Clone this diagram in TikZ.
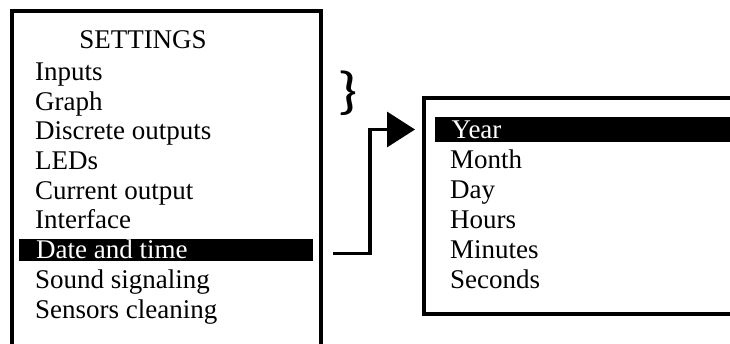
\documentclass[tikz,border=0pt]{standalone}
\usepackage{fontspec}
\usepackage{graphicx}
\setmainfont{Liberation Serif}
\newfontfamily\bracefont{Carlito}
\usetikzlibrary{arrows.meta}
\begin{document}
\begin{tikzpicture}[x=1pt,y=-1pt,
  frame/.style={line width=4pt},
  item/.style={anchor=base west, inner sep=0pt, font=\fontsize{27}{30}\selectfont},
  title/.style={anchor=base, inner sep=0pt, font=\fontsize{27}{30}\selectfont},
  selected/.style={item, text=white},
  hlbar/.style={fill=black},
  link/.style={line width=3.4pt, -{Triangle[length=28pt,width=35pt]}}]
\useasboundingbox (0,0) rectangle (730,344);
\clip (0,0) rectangle (730,344);

% main settings menu (runs off the bottom edge)
\draw[frame] (11.5,352) -- (11.5,11.3) -- (321.3,11.3) -- (321.3,352);
\fill[hlbar] (19,239) rectangle (313,261.5);
\node[title] (settings) at (143,49) {SETTINGS};
\node[item] (inputs)    at (35,80.5)  {Inputs};
\node[item] (graph)     at (35,110.2) {Graph};
\node[item] (discrete)  at (35,139.9) {Discrete outputs};
\node[item] (leds)      at (35,169.6) {LEDs};
\node[item] (current)   at (35,199.3) {Current output};
\node[item] (interface) at (35,229)   {Interface};
\node[selected] (date)  at (36,259)   {Date and time};
\node[item] (sound)     at (35,288.4) {Sound signaling};
\node[item] (sensors)   at (35,318.1) {Sensors cleaning};

% closing brace
\node[inner sep=0pt, font=\bracefont\fontsize{52}{52}\selectfont] (brace) at (348,93)
  {\scalebox{1.25}[1]{\}}};

% date/time submenu (runs off the right edge)
\draw[frame] (740,98.5) -- (423.5,98.5) -- (423.5,313.5) -- (740,313.5);
\fill[hlbar] (434.5,116.7) rectangle (740,142.5);
\node[selected] (year)  at (451.5,138.3) {Year};
\node[item] (month)     at (450,168.3) {Month};
\node[item] (day)       at (450,198.3) {Day};
\node[item] (hours)     at (450,228.3) {Hours};
\node[item] (minutes)   at (450,258.3) {Minutes};
\node[item] (seconds)   at (450,288.3) {Seconds};

% link from the selected entry to the submenu
\coordinate (out) at (333,253.5);
\coordinate (in)  at (415,129.5);
\draw[link] (out) -- (370,253.5) |- (in);
\end{tikzpicture}
\end{document}
